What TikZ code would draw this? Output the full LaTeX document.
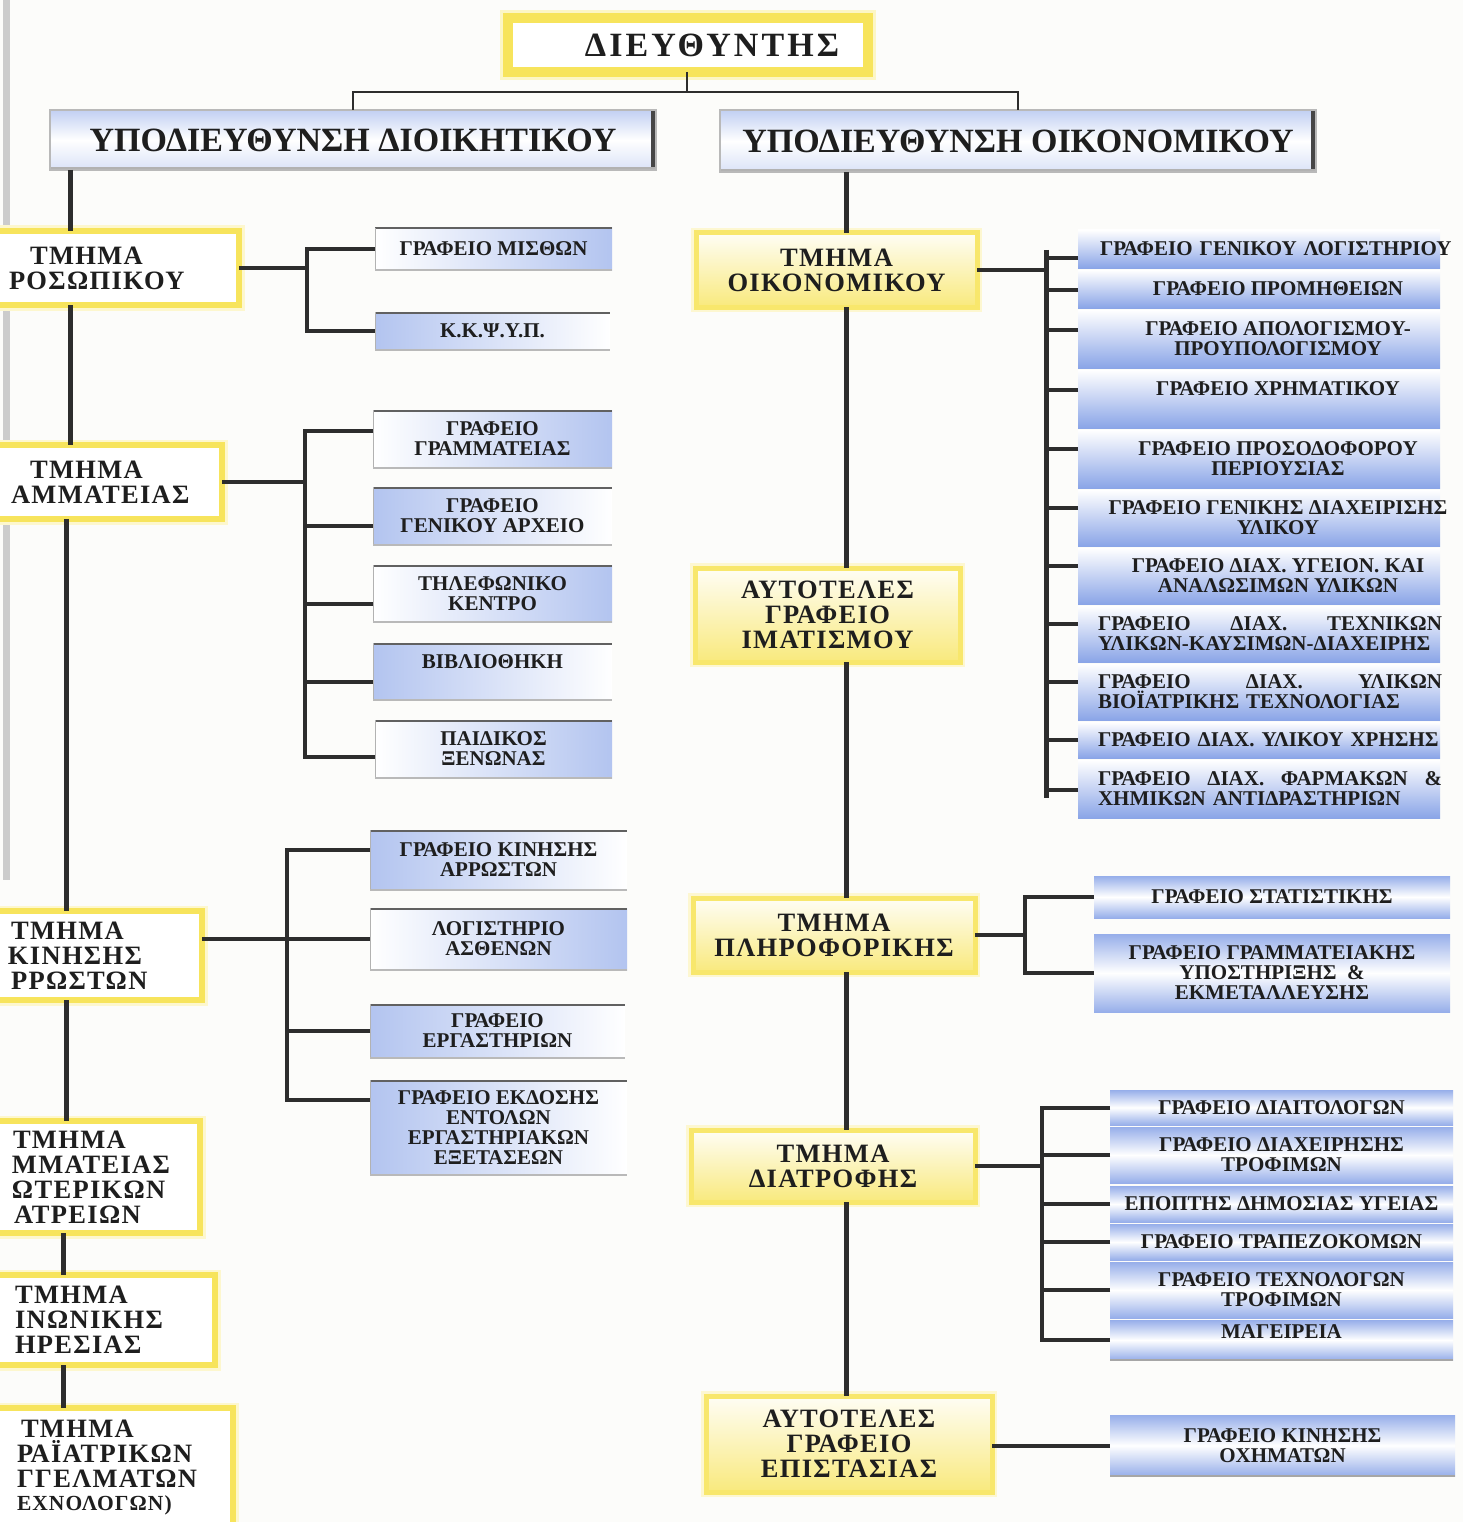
\documentclass[tikz,border=0pt]{standalone}
\usepackage{fontspec}
\setmainfont{Liberation Serif}
\newfontfamily\hdfont[LetterSpace=5]{Liberation Serif}
\newfontfamily\dirfont[LetterSpace=9]{Liberation Serif}
\usetikzlibrary{calc}
\definecolor{yel}{RGB}{247,228,92}
\definecolor{blu}{RGB}{132,160,230}
\definecolor{ink}{RGB}{30,30,30}
\definecolor{lnk}{RGB}{45,45,45}
\definecolor{bgc}{RGB}{252,252,250}
% \bx{name}{style}{x1}{y1}{x2}{y2}{text}
\newcommand\bx[7]{\node[#2, minimum width={(#5-#3)*1pt}, minimum height={(#6-#4)*1pt}] (#1) at ({(#3+#5)/2},{(#4+#6)/2}) {#7};}
\tikzset{
 every node/.style={inner sep=0pt, outer sep=0pt, align=center, text=ink},
 dirbox/.style={rectangle, fill=white, draw=yel, line width=10pt, preaction={draw=yel!35, line width=16pt}, font=\dirfont\bfseries\fontsize{34}{34}\selectfont},
 dept/.style={rectangle, fill=white, draw=yel, line width=6pt, preaction={draw=yel!30, line width=11pt}, align=left, font=\hdfont\bfseries\fontsize{26.5}{25}\selectfont},
 cdept/.style={rectangle, top color=yel!6, bottom color=yel!80, draw=yel!90, line width=5pt, preaction={draw=yel!28, line width=10pt}, font=\hdfont\bfseries\fontsize{26.5}{25}\selectfont},
 subdir/.style={rectangle, top color=blu!50, bottom color=blu!30, middle color=white, draw=gray!55, line width=1.2pt, font=\bfseries\fontsize{34}{34}\selectfont,
   path picture={\fill[gray!55!black] ([xshift=-5pt]path picture bounding box.north east) rectangle (path picture bounding box.south east);
                 \fill[gray!60] (path picture bounding box.south west) rectangle ([yshift=3pt]path picture bounding box.south east);}},
 subfont/.style={font=\bfseries\fontsize{21}{20}\selectfont},
 subbox/.style={rectangle, subfont,
   path picture={\draw[lnk!75, line width=3pt] (path picture bounding box.north west) -- (path picture bounding box.north east);
                 \draw[gray!60, line width=2pt] (path picture bounding box.north west) -- (path picture bounding box.south west);
                 \draw[gray!55, line width=2pt] (path picture bounding box.south west) -- (path picture bounding box.south east);}},
 subL/.style={subbox, left color=blu!62, right color=white},
 subR/.style={subbox, left color=white, right color=blu!62},
 stack/.style={rectangle, subfont, fill=bgc,
   path picture={\shade[top color=white, bottom color=blu!95] (path picture bounding box.north west) rectangle ([xshift=362pt]path picture bounding box.south west);}},
 stackL/.style={stack, text width=360pt, align=left},
 band/.style={rectangle, subfont, top color=blu!85, bottom color=blu!85, middle color=white},
 bandline/.style={band, path picture={\draw[gray!70, line width=3pt] (path picture bounding box.south west) -- (path picture bounding box.south east);}},
 trunk/.style={draw=lnk, line width=5pt},
 brline/.style={draw=lnk, line width=4pt},
 topline/.style={draw=lnk, line width=2pt},
}
\begin{document}
\begin{tikzpicture}[x=1pt,y=-1pt]
\useasboundingbox (0,0) rectangle (1463,1522);
\clip (0,0) rectangle (1463,1522);
\fill[bgc] (0,0) rectangle (1463,1522);
\fill[gray!40] (3,0) rectangle (10,880);

% coordinates for trunk lines
\coordinate (L1) at (70,0);
\coordinate (L2) at (66,0);
\coordinate (L3) at (63,0);
\coordinate (C)  at (846,0);
\coordinate (T1) at (307,0);
\coordinate (T2) at (305,0);
\coordinate (T3) at (287,0);
\coordinate (T4) at (1046,0);
\coordinate (T5) at (1025,0);
\coordinate (T6) at (1042,0);
\coordinate (TJ) at (687,92);

% top
\bx{dir}{dirbox}{508}{18}{868}{72}{\hspace*{48pt}ΔΙΕΥΘΥΝΤΗΣ}
\bx{sdA}{subdir}{50}{110}{656}{170}{ΥΠΟΔΙΕΥΘΥΝΣΗ ΔΙΟΙΚΗΤΙΚΟΥ}
\bx{sdB}{subdir}{720}{110}{1316}{172}{ΥΠΟΔΙΕΥΘΥΝΣΗ ΟΙΚΟΝΟΜΙΚΟΥ}

% left departments (cut by the scan's left edge)
\bx{p1}{dept,text width=251pt}{-12}{231}{239}{305}{\hspace*{42pt}ΤΜΗΜΑ\\\hspace*{21pt}ΡΟΣΩΠΙΚΟΥ}
\bx{p2}{dept,text width=234pt}{-12}{445}{222}{519}{\hspace*{42pt}ΤΜΗΜΑ\\\hspace*{23pt}ΑΜΜΑΤΕΙΑΣ}
\bx{p3}{dept,text width=214pt}{-12}{911}{202}{1000}{\hspace*{23pt}ΤΜΗΜΑ\\\hspace*{20pt}ΚΙΝΗΣΗΣ\\\hspace*{23pt}ΡΡΩΣΤΩΝ}
\bx{p4}{dept,text width=212pt}{-12}{1121}{200}{1233}{\hspace*{25pt}ΤΜΗΜΑ\\\hspace*{24pt}ΜΜΑΤΕΙΑΣ\\\hspace*{24pt}ΩΤΕΡΙΚΩΝ\\\hspace*{26pt}ΑΤΡΕΙΩΝ}
\bx{p5}{dept,text width=227pt}{-12}{1275}{215}{1365}{\hspace*{27pt}ΤΜΗΜΑ\\\hspace*{27pt}ΙΝΩΝΙΚΗΣ\\\hspace*{27pt}ΗΡΕΣΙΑΣ}
\bx{p6}{dept,text width=245pt}{-12}{1408}{233}{1527}{\hspace*{33pt}ΤΜΗΜΑ\\\hspace*{29pt}ΡΑΪΑΤΡΙΚΩΝ\\\hspace*{29pt}ΓΓΕΛΜΑΤΩΝ\\[-2pt]\hspace*{29pt}{\fontsize{21.5}{21}\selectfont ΕΧΝΟΛΟΓΩΝ)}}

% centre departments
\bx{o1}{cdept}{696}{233}{977}{307}{ΤΜΗΜΑ\\ΟΙΚΟΝΟΜΙΚΟΥ}
\bx{o2}{cdept}{695}{568}{960}{662}{ΑΥΤΟΤΕΛΕΣ\\ΓΡΑΦΕΙΟ\\ΙΜΑΤΙΣΜΟΥ}
\bx{o3}{cdept}{693}{898}{975}{972}{ΤΜΗΜΑ\\ΠΛΗΡΟΦΟΡΙΚΗΣ}
\bx{o4}{cdept}{691}{1130}{975}{1202}{ΤΜΗΜΑ\\ΔΙΑΤΡΟΦΗΣ}
\bx{o5}{cdept}{706}{1396}{992}{1492}{ΑΥΤΟΤΕΛΕΣ\\ΓΡΑΦΕΙΟ\\ΕΠΙΣΤΑΣΙΑΣ}

% left sub offices
\bx{a1}{subR}{375}{228}{612}{270}{ΓΡΑΦΕΙΟ ΜΙΣΘΩΝ}
\bx{a2}{subL}{375}{312}{610}{350}{Κ.Κ.Ψ.Υ.Π.}
\bx{b1}{subR}{373}{410}{612}{468}{ΓΡΑΦΕΙΟ\\ΓΡΑΜΜΑΤΕΙΑΣ}
\bx{b2}{subL}{373}{487}{612}{545}{ΓΡΑΦΕΙΟ\\ΓΕΝΙΚΟΥ ΑΡΧΕΙΟ}
\bx{b3}{subR}{373}{565}{612}{622}{ΤΗΛΕΦΩΝΙΚΟ\\ΚΕΝΤΡΟ}
\bx{b4}{subL}{373}{643}{612}{700}{ΒΙΒΛΙΟΘΗΚΗ\\\mbox{}}
\bx{b5}{subR}{375}{720}{612}{778}{ΠΑΙΔΙΚΟΣ\\ΞΕΝΩΝΑΣ}
\bx{c1}{subL}{370}{830}{627}{890}{ΓΡΑΦΕΙΟ ΚΙΝΗΣΗΣ\\ΑΡΡΩΣΤΩΝ}
\bx{c2}{subR}{370}{908}{627}{970}{ΛΟΓΙΣΤΗΡΙΟ\\ΑΣΘΕΝΩΝ}
\bx{c3}{subL}{370}{1004}{625}{1058}{ΓΡΑΦΕΙΟ\\ΕΡΓΑΣΤΗΡΙΩΝ}
\bx{c4}{subL}{370}{1080}{627}{1175}{ΓΡΑΦΕΙΟ ΕΚΔΟΣΗΣ\\ΕΝΤΟΛΩΝ\\ΕΡΓΑΣΤΗΡΙΑΚΩΝ\\ΕΞΕΤΑΣΕΩΝ}

% right stack (economic)
\bx{r1}{stackL}{1078}{230}{1478}{268}{\hspace*{2pt}ΓΡΑΦΕΙΟ ΓΕΝΙΚΟΥ ΛΟΓΙΣΤΗΡΙΟΥ}
\bx{r2}{stack}{1078}{270}{1478}{308}{ΓΡΑΦΕΙΟ ΠΡΟΜΗΘΕΙΩΝ}
\bx{r3}{stack}{1078}{310}{1478}{368}{ΓΡΑΦΕΙΟ ΑΠΟΛΟΓΙΣΜΟΥ-\\ΠΡΟΥΠΟΛΟΓΙΣΜΟΥ}
\bx{r4}{stack}{1078}{370}{1478}{428}{ΓΡΑΦΕΙΟ ΧΡΗΜΑΤΙΚΟΥ\\\mbox{}}
\bx{r5}{stack}{1078}{430}{1478}{488}{ΓΡΑΦΕΙΟ ΠΡΟΣΟΔΟΦΟΡΟΥ\\ΠΕΡΙΟΥΣΙΑΣ}
\bx{r6}{stack}{1078}{490}{1478}{546}{ΓΡΑΦΕΙΟ ΓΕΝΙΚΗΣ ΔΙΑΧΕΙΡΙΣΗΣ\\ΥΛΙΚΟΥ}
\bx{r7}{stack}{1078}{548}{1478}{604}{ΓΡΑΦΕΙΟ ΔΙΑΧ. ΥΓΕΙΟΝ. ΚΑΙ\\ΑΝΑΛΩΣΙΜΩΝ ΥΛΙΚΩΝ}
\bx{r8}{stackL}{1078}{606}{1478}{662}{\makebox[344pt][s]{ΓΡΑΦΕΙΟ\hfill ΔΙΑΧ.\hfill ΤΕΧΝΙΚΩΝ}\\ΥΛΙΚΩΝ-ΚΑΥΣΙΜΩΝ-ΔΙΑΧΕΙΡΗΣ}
\bx{r9}{stackL}{1078}{664}{1478}{720}{\makebox[344pt][s]{ΓΡΑΦΕΙΟ\hfill ΔΙΑΧ.\hfill ΥΛΙΚΩΝ}\\ΒΙΟΪΑΤΡΙΚΗΣ ΤΕΧΝΟΛΟΓΙΑΣ}
\bx{r10}{stackL}{1078}{722}{1478}{758}{ΓΡΑΦΕΙΟ ΔΙΑΧ. ΥΛΙΚΟΥ ΧΡΗΣΗΣ}
\bx{r11}{stackL}{1078}{760}{1478}{818}{\makebox[344pt][s]{ΓΡΑΦΕΙΟ\hfill ΔΙΑΧ.\hfill ΦΑΡΜΑΚΩΝ\hfill \&}\\ΧΗΜΙΚΩΝ ΑΝΤΙΔΡΑΣΤΗΡΙΩΝ}

% informatics
\bx{s1}{band}{1094}{876}{1450}{918}{ΓΡΑΦΕΙΟ ΣΤΑΤΙΣΤΙΚΗΣ}
\bx{s2}{band}{1094}{934}{1450}{1012}{ΓΡΑΦΕΙΟ ΓΡΑΜΜΑΤΕΙΑΚΗΣ\\ΥΠΟΣΤΗΡΙΞΗΣ \ \&\\ΕΚΜΕΤΑΛΛΕΥΣΗΣ}

% nutrition
\bx{d1}{band}{1110}{1090}{1453}{1125}{ΓΡΑΦΕΙΟ ΔΙΑΙΤΟΛΟΓΩΝ}
\bx{d2}{band}{1110}{1127}{1453}{1183}{ΓΡΑΦΕΙΟ ΔΙΑΧΕΙΡΗΣΗΣ\\ΤΡΟΦΙΜΩΝ}
\bx{d3}{band}{1110}{1186}{1453}{1222}{ΕΠΟΠΤΗΣ ΔΗΜΟΣΙΑΣ ΥΓΕΙΑΣ}
\bx{d4}{band}{1110}{1224}{1453}{1260}{ΓΡΑΦΕΙΟ ΤΡΑΠΕΖΟΚΟΜΩΝ}
\bx{d5}{band}{1110}{1262}{1453}{1318}{ΓΡΑΦΕΙΟ ΤΕΧΝΟΛΟΓΩΝ\\ΤΡΟΦΙΜΩΝ}
\bx{d6}{bandline}{1110}{1320}{1453}{1360}{ΜΑΓΕΙΡΕΙΑ\\[-4pt]\mbox{}}

% supervision
\bx{e1}{bandline}{1110}{1415}{1455}{1476}{ΓΡΑΦΕΙΟ ΚΙΝΗΣΗΣ\\ΟΧΗΜΑΤΩΝ}

% ---- connectors ----
\draw[topline] (dir.south -| TJ) -- (TJ);
\draw[topline] (sdA.north) -- (sdA.north |- TJ) -- (sdB.north |- TJ) -- (sdB.north);

% left trunk
\draw[trunk] (sdA.south -| L1) -- (p1.north -| L1);
\draw[trunk] (p1.south -| L1) -- (p2.north -| L1);
\draw[trunk] (p2.south -| L2) -- (p3.north -| L2);
\draw[trunk] (p3.south -| L2) -- (p4.north -| L2);
\draw[trunk] (p4.south -| L3) -- (p5.north -| L3);
\draw[trunk] (p5.south -| L3) -- (p6.north -| L3);

% centre trunk
\draw[trunk] (sdB.south -| C) -- (o1.north -| C);
\draw[trunk] (o1.south -| C) -- (o2.north -| C);
\draw[trunk] (o2.south -| C) -- (o3.north -| C);
\draw[trunk] (o3.south -| C) -- (o4.north -| C);
\draw[trunk] (o4.south -| C) -- (o5.north -| C);

% personnel
\draw[brline] (p1.east) -- (p1.east -| T1);
\draw[brline] (a1.west) -- (a1.west -| T1) -- (a2.west -| T1) -- (a2.west);

% secretariat
\draw[brline] (p2.east) -- (p2.east -| T2);
\draw[brline] ($(b1.west)+(0,-8)$) -- ($(b1.west -| T2)+(0,-8)$) -- ($(b5.west -| T2)+(0,8)$) -- ($(b5.west)+(0,8)$);
\draw[brline] ($(b2.west)+(0,10)$) -- ($(b2.west -| T2)+(0,10)$);
\draw[brline] ($(b3.west)+(0,10)$) -- ($(b3.west -| T2)+(0,10)$);
\draw[brline] ($(b4.west)+(0,10)$) -- ($(b4.west -| T2)+(0,10)$);

% patient movement
\draw[brline] (p3.east |- c2.west) -- (c2.west);
\draw[brline] ($(c1.west)+(0,-10)$) -- ($(c1.west -| T3)+(0,-10)$) -- ($(c4.north west -| T3)+(0,20)$) -- ($(c4.north west)+(0,20)$);
\draw[brline] (c3.west) -- (c3.west -| T3);

% economic
\draw[brline] (o1.east) -- (o1.east -| T4);
\draw[trunk] ($(r1.west -| T4)+(0,1)$) -- ($(r11.west -| T4)+(0,9)$);
\foreach \r/\dy in {r1/9,r2/1,r3/-9,r4/-9,r5/-10,r6/-10,r7/-10,r8/-10,r9/-10,r10/0,r11/1} {
  \draw[brline] ($(\r.west)+(0,\dy)$) -- ($(\r.west -| T4)+(0,\dy)$);
}

% informatics
\draw[brline] (o3.east) -- (o3.east -| T5);
\draw[brline] (s1.west) -- (s1.west -| T5) -- (s2.west -| T5) -- (s2.west);

% nutrition
\draw[brline] (o4.east) -- (o4.east -| T6);
\draw[brline] (d1.west) -- (d1.west -| T6) -- (d6.west -| T6) -- (d6.west);
\foreach \d in {d2,d3,d4,d5} { \draw[brline] (\d.west) -- (\d.west -| T6); }

% supervision
\draw[brline] (o5.east |- e1.west) -- (e1.west);
\end{tikzpicture}
\end{document}
